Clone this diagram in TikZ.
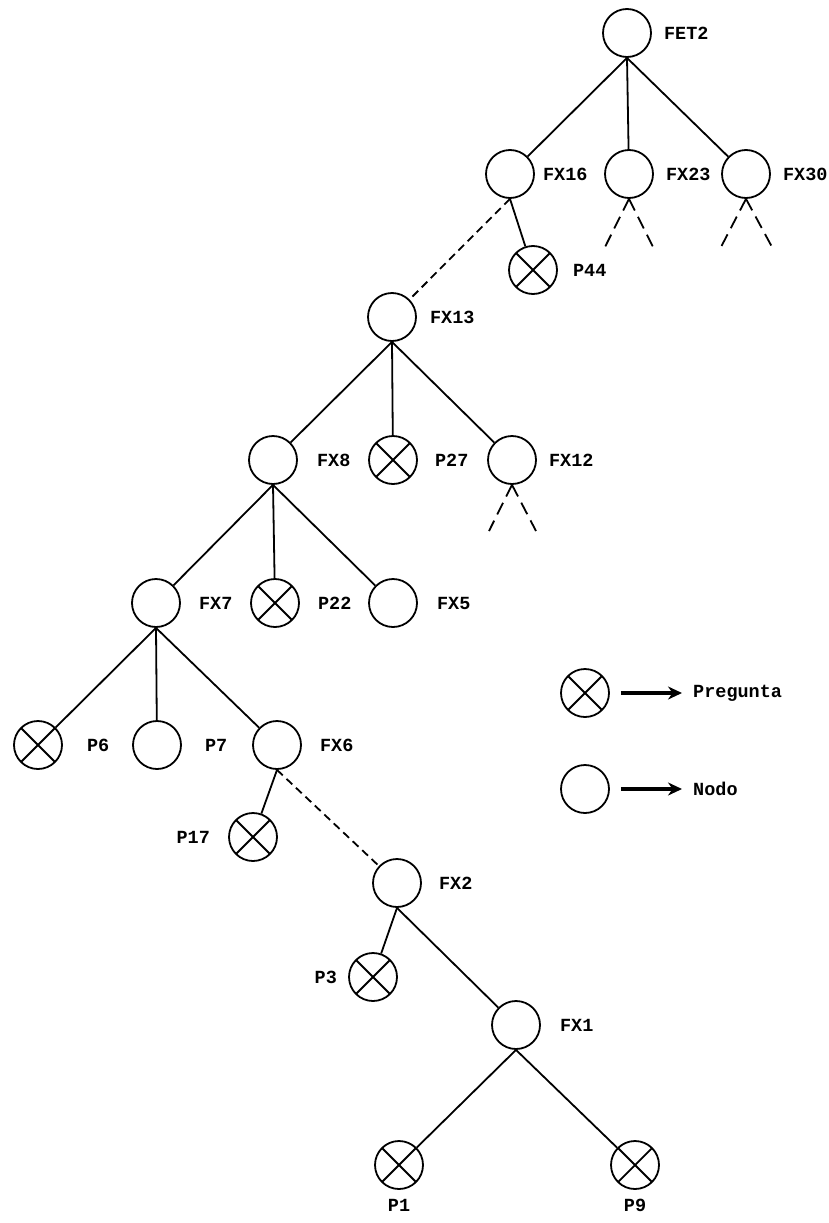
\documentclass[tikz,border=0pt]{standalone}
\usepackage{fontspec}
\setmonofont{Liberation Mono}
\usetikzlibrary{arrows.meta}
\tikzset{>={Stealth[length=14pt,width=13pt]}}
\tikzset{
  nodo/.style={circle,draw,line width=1.8pt,minimum size=48pt,inner sep=0pt},
  pregunta/.style={nodo,path picture={
      \draw[line width=1.8pt] (path picture bounding box.north west) -- (path picture bounding box.south east)
        (path picture bounding box.north east) -- (path picture bounding box.south west);}},
  every label/.style={inner sep=1pt,font=\ttfamily\bfseries\fontsize{18.5}{22}\selectfont},
  rama/.style={line width=1.8pt},
  punteada/.style={line width=1.8pt,dash pattern=on 8pt off 5pt},
  corte/.style={line width=1.8pt,dash pattern=on 13pt off 7pt},
  flecha/.style={->,line width=4.5pt},
  leyenda/.style={anchor=west,inner sep=1pt,font=\ttfamily\bfseries\fontsize{18.5}{22}\selectfont}
}

\begin{document}
\begin{tikzpicture}[x=1pt,y=-1pt,label distance=11pt]
    \useasboundingbox (0,0) rectangle (829,1223);

    % raiz y primer nivel
    \node[nodo,label=right:FET2] (fet2) at (627,33) {};
    \node[nodo,label={[label distance=7pt]right:FX16}] (fx16) at (510,174) {};
    \node[nodo,label=right:FX23] (fx23) at (629,174) {};
    \node[nodo,label=right:FX30] (fx30) at (746,174) {};
    \node[pregunta,label={[label distance=14pt]right:P44}] (p44) at (533,270) {};

    \node[nodo,label={[label distance=12pt]right:FX13}] (fx13) at (392,317) {};
    \node[nodo,label={[label distance=18pt]right:FX8}] (fx8) at (273,460) {};
    \node[pregunta,label={[label distance=16pt]right:P27}] (p27) at (393,460) {};
    \node[nodo,label=right:FX12] (fx12) at (512,460) {};

    \node[nodo,label={[label distance=17pt]right:FX7}] (fx7) at (156,603) {};
    \node[pregunta,label={[label distance=17pt]right:P22}] (p22) at (275,603) {};
    \node[nodo,label={[label distance=18pt]right:FX5}] (fx5) at (393,603) {};

    \node[pregunta,label={[label distance=23pt]right:P6}] (p6) at (38,745) {};
    \node[nodo,label={[label distance=22pt]right:P7}] (p7) at (157,745) {};
    \node[nodo,label={[label distance=17pt]right:FX6}] (fx6) at (277,745) {};
    \node[pregunta,label={[label distance=17pt]left:P17}] (p17) at (253,837) {};

    \node[nodo,label={[label distance=16pt]right:FX2}] (fx2) at (397,883) {};
    \node[pregunta,label={[label distance=10pt]left:P3}] (p3) at (373,977) {};
    \node[nodo,label={[label distance=18pt]right:FX1}] (fx1) at (516,1025) {};
    \node[pregunta,label={[label distance=8pt]below:P1}] (p1) at (399,1165) {};
    \node[pregunta,label={[label distance=8pt]below:P9}] (p9) at (635,1165) {};

    % ramas
    \draw[rama] (fet2.south) -- (fx16);
    \draw[rama] (fet2.south) -- (fx23);
    \draw[rama] (fet2.south) -- (fx30);
    \draw[rama] (fx16.south) -- (p44);
    \draw[rama] (fx13.south) -- (fx8);
    \draw[rama] (fx13.south) -- (p27);
    \draw[rama] (fx13.south) -- (fx12);
    \draw[rama] (fx8.south) -- (fx7);
    \draw[rama] (fx8.south) -- (p22);
    \draw[rama] (fx8.south) -- (fx5);
    \draw[rama] (fx7.south) -- (p6);
    \draw[rama] (fx7.south) -- (p7);
    \draw[rama] (fx7.south) -- (fx6);
    \draw[rama] (fx6.south) -- (p17);
    \draw[rama] (fx2.south) -- (p3);
    \draw[rama] (fx2.south) -- (fx1);
    \draw[rama] (fx1.south) -- (p1);
    \draw[rama] (fx1.south) -- (p9);

    \draw[punteada] (fx16.south) -- (fx13);
    \draw[punteada] (fx6.south) -- (fx2);

    % ramas cortadas
    \coordinate (fx23a) at (605,247);
    \coordinate (fx23b) at (653,247);
    \coordinate (fx30a) at (721,247);
    \coordinate (fx30b) at (772,247);
    \coordinate (fx12a) at (489,531);
    \coordinate (fx12b) at (536,531);
    \draw[corte] (fx23.south) -- (fx23a);
    \draw[corte] (fx23.south) -- (fx23b);
    \draw[corte] (fx30.south) -- (fx30a);
    \draw[corte] (fx30.south) -- (fx30b);
    \draw[corte] (fx12.south) -- (fx12a);
    \draw[corte] (fx12.south) -- (fx12b);

    % leyenda
    \node[pregunta] (legp) at (585,693) {};
    \node[leyenda] (txtp) at (692,693) {Pregunta};
    \node[nodo] (legn) at (585,789) {};
    \node[leyenda] (txtn) at (692,789) {Nodo};
    \draw[flecha,shorten <=11pt,shorten >=10pt] (legp.east) -- (txtp.west);
    \draw[flecha,shorten <=11pt,shorten >=10pt] (legn.east) -- (txtn.west);

  \end{tikzpicture}
\end{document}
